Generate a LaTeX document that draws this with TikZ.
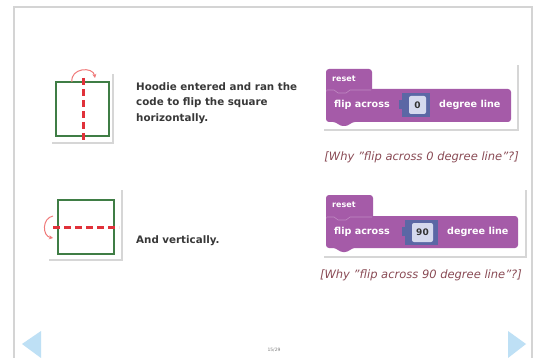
\documentclass[tikz,border=0pt]{standalone}
\usepackage{fontspec}
\setmainfont{DejaVu Sans}
\usetikzlibrary{arrows.meta}
\definecolor{blk}{HTML}{A55BA8}
\definecolor{blkline}{HTML}{C08AC2}
\definecolor{inbox}{HTML}{5B67A5}
\definecolor{inlight}{HTML}{D5D9EE}
\definecolor{sqgreen}{HTML}{3F7D45}
\definecolor{flipred}{HTML}{E0313A}
\definecolor{arcred}{HTML}{F07A7A}
\definecolor{capcol}{HTML}{8A4B55}
\definecolor{navblue}{HTML}{BEE0F5}
\definecolor{frame}{HTML}{D4D4D4}
\definecolor{shadowc}{HTML}{D6D6D6}
\tikzset{
  bodytext/.style={font=\fontsize{10.3}{15.5}\selectfont\bfseries, text=black!78, anchor=west, align=left, inner sep=0pt},
  captext/.style={font=\fontsize{11.5}{12}\selectfont\itshape, text=capcol, anchor=east, inner sep=0pt},
  blocktext/.style={font=\fontsize{9.6}{12}\selectfont\bfseries, text=white, anchor=west, inner sep=0pt},
  tabtext/.style={font=\fontsize{8}{10}\selectfont\bfseries, text=white, anchor=west, inner sep=0pt},
  valtext/.style={font=\fontsize{9}{10}\selectfont\bfseries, text=black!80, inner sep=0pt},
  sqline/.style={draw=sqgreen, line width=1.2pt},
  flipline/.style={draw=flipred, line width=3pt, dash pattern=on 7pt off 4pt},
  arcline/.style={draw=arcred, line width=1pt, -{Stealth[length=4pt,width=4pt]}},
  navtri/.style={fill=navblue, draw=none},
}
\begin{document}
\begin{tikzpicture}[x=1pt,y=-1pt]
\useasboundingbox (0,0) rectangle (540,358);
\fill[white] (0,0) rectangle (540,358);
% slide frame
\draw[frame, line width=1.4pt] (14,358) -- (14,7) -- (532,7) -- (532,358);

% ---- card 1 with square ----
\fill[shadowc] (52,74) rectangle (114,144);
\fill[white] (50,72) rectangle (112,142);
\draw[sqline] (56,82) rectangle (109,136);
\draw[flipline] (83,78) -- (83,141);
\coordinate (a1s) at (72,82);
\coordinate (a1e) at (95,78);
\draw[arcline] (a1s) .. controls (70,68) and (93,66) .. (a1e);

% ---- card 2 with square ----
\fill[shadowc] (49,190) rectangle (123,261);
\fill[white] (47,188) rectangle (121,259);
\draw[sqline] (58,200) rectangle (114,254);
\draw[flipline] (53,227) -- (119,227);
\coordinate (a2s) at (53,216);
\coordinate (a2e) at (53,238);
\draw[arcline] (a2s) .. controls (42,218) and (42,236) .. (a2e);

% ---- texts ----
\node[bodytext] (t1) at (136,103) {Hoodie entered and ran the\\code to flip the square\\horizontally.};
\node[bodytext] (t2) at (136,241) {And vertically.};

% ---- block 1 ----
\fill[shadowc] (324,65) rectangle (519,131);
\fill[white] (322,63) rectangle (517,129);
\fill[blk, rounded corners=3pt] (326,90) -- (326,69) -- (372,69) -- (372,92) -- (326,92) -- cycle;
\fill[blk, rounded corners=3pt] (326,89) -- (511,89) -- (511,122) -- (352,122) -- (348,126) -- (340,126) -- (336,122) -- (326,122) -- cycle;
\draw[blkline, line width=0.6pt] (327,90) -- (334,90) -- (338,93) -- (346,93) -- (350,90) -- (371,90);
\node[tabtext] (r1) at (332,79) {reset};
\node[blocktext] (f1) at (334,105) {flip across};
\fill[inbox] (402,93) rectangle (430,117);
\fill[inbox] (399,100) rectangle (402,109);
\fill[inlight, rounded corners=2pt] (409,96) rectangle (426,114);
\node[valtext] (v1) at (417.5,105) {0};
\node[blocktext] (d1) at (439,105) {degree line};
\node[captext] (c1) at (519,157) {[Why "flip across 0 degree line"?]};

% ---- block 2 ----
\fill[shadowc] (324,190) rectangle (527,258);
\fill[white] (322,188) rectangle (525,256);
\fill[blk, rounded corners=3pt] (326,216) -- (326,195) -- (373,195) -- (373,219) -- (326,219) -- cycle;
\fill[blk, rounded corners=3pt] (326,216) -- (518,216) -- (518,248) -- (352,248) -- (348,252) -- (340,252) -- (336,248) -- (326,248) -- cycle;
\draw[blkline, line width=0.6pt] (327,217) -- (334,217) -- (338,220) -- (346,220) -- (350,217) -- (372,217);
\node[tabtext] (r2) at (332,205) {reset};
\node[blocktext] (f2) at (334,232) {flip across};
\fill[inbox] (405,220) rectangle (438,245);
\fill[inbox] (402,227) rectangle (405,236);
\fill[inlight, rounded corners=2pt] (412,223) rectangle (433,242);
\node[valtext] (v2) at (422.5,232.5) {90};
\node[blocktext] (d2) at (447,232) {degree line};
\node[captext] (c2) at (522,275) {[Why "flip across 90 degree line"?]};

% ---- navigation ----
\fill[navtri] (22,344) -- (41,331) -- (41,358) -- cycle;
\fill[navtri] (526,344) -- (508,331) -- (508,358) -- cycle;
\node[font=\fontsize{4.5}{5}\selectfont, text=black!50, inner sep=0pt] (pg) at (274,350) {15/29};
\end{tikzpicture}
\end{document}
